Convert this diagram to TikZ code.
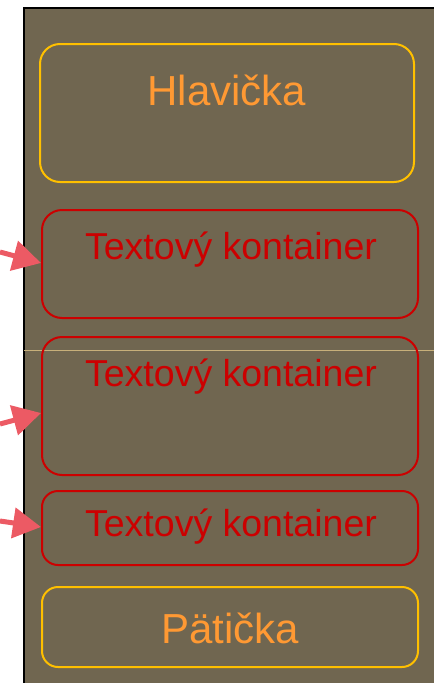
\documentclass[tikz,border=0pt]{standalone}
\usepackage{fontspec}
\setmainfont{Liberation Sans}
\usetikzlibrary{arrows.meta}

\definecolor{pozadi}{RGB}{112,102,80}
\definecolor{zlata}{RGB}{255,192,0}
\definecolor{oranz}{RGB}{255,153,51}
\definecolor{cervena}{RGB}{204,0,0}
\definecolor{linka}{RGB}{200,176,122}
\definecolor{ruzova}{RGB}{236,90,100}

\tikzset{
  blok/.style={draw, line width=2pt, rounded corners=20pt, inner sep=0pt},
  hlblok/.style={blok, draw=zlata},
  txblok/.style={blok, draw=cervena},
  nadpis/.style={text=oranz, font=\fontsize{42}{46}\selectfont, inner sep=0pt},
  popis/.style={text=cervena, font=\fontsize{37.5}{41}\selectfont, inner sep=0pt},
  sipka/.style={draw=ruzova, fill=ruzova, line width=5pt,
    -{Triangle[length=28pt,width=30pt]}}
}

\begin{document}
\begin{tikzpicture}[x=1pt,y=-1pt]
\useasboundingbox (0,0) rectangle (434,683);
% pozadi stranky
\fill[pozadi] (24,8) rectangle (434,683);
\draw[line width=2pt] (24,683) -- (24,8) -- (434,8);
\draw[linka, line width=1pt] (24,350) -- (434,350);

% bloky
\node[hlblok, minimum width=374pt, minimum height=138pt] (hlavicka) at (227,113) {};
\node[txblok, minimum width=376pt, minimum height=108pt] (text1) at (230,264) {};
\node[txblok, minimum width=376pt, minimum height=138pt] (text2) at (230,406) {};
\node[txblok, minimum width=376pt, minimum height=74pt, rounded corners=16pt] (text3) at (230,528) {};
\node[hlblok, minimum width=376pt, minimum height=80pt, rounded corners=16pt] (paticka) at (230,627) {};

% popisky
\node[nadpis] (hlavickaT) at (227,90) {Hlavička};
\node[popis] (text1T) at (231,250) {Textový kontainer};
\node[popis] (text2T) at (231,377) {Textový kontainer};
\node[popis] (text3T) at (231,527) {Textový kontainer};
\node[nadpis] (patickaT) at (230,628) {Pätička};

% sipky
\coordinate (z1) at (0,252);
\coordinate (z2) at (0,424);
\coordinate (z3) at (0,521);
\draw[sipka] (z1) -- (text1.west |- 0,263);
\draw[sipka] (z2) -- (text2.west |- 0,413);
\draw[sipka] (z3) -- (text3.west |- 0,527);
\end{tikzpicture}
\end{document}
